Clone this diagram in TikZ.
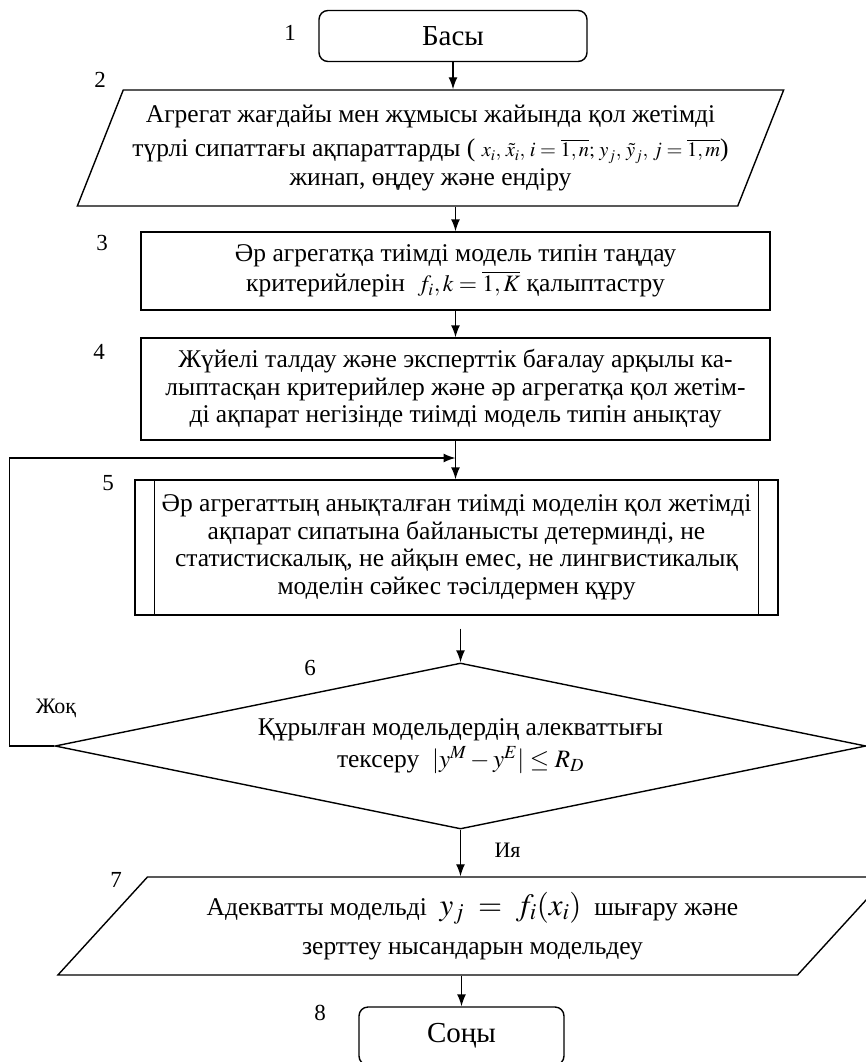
\documentclass[tikz,border=0pt]{standalone}
\usepackage{amsmath}
\usepackage{mathptmx}
\usepackage{fontspec}
\setmainfont{Liberation Serif}
\usetikzlibrary{positioning,arrows.meta,shapes.geometric}
\begin{document}
\begin{tikzpicture}[x=1pt,y=-1pt,font=\fontsize{25.5}{27.5}\selectfont,b/.style={draw,line width=1.4pt,align=center,inner sep=0pt},io/.style={b,trapezium,trapezium stretches=true},term/.style={b,rounded corners=9pt,font=\fontsize{29}{30}\selectfont},n/.style={inner sep=0pt,font=\fontsize{23}{25}\selectfont},a/.style={-{Latex[length=12pt,width=9pt]},line width=1.4pt}]
\path[use as bounding box,clip] (0,0) rectangle (866,1062);
\node[term,minimum width=268,minimum height=51](start) at (453,36){Басы};
\node[io,trapezium left angle=62.6,trapezium right angle=117.4,minimum width=711,minimum height=116](input) at (430.5,148){Агрегат жағдайы мен жұмысы жайында қол жетімді\\[7pt]түрлі сипаттағы ақпараттарды ( {\fontsize{20.5}{22}\selectfont$x_i,\,\tilde{x}_i,\,i=\overline{1,n};\,y_j,\,\tilde{y}_j,\,j=\overline{1,m}$})\\[1pt]жинап, өңдеу және ендіру};
\node[b,minimum width=629,minimum height=78](crit) at (455.5,271){Әр агрегатқа тиімді модель типін таңдау\\[3pt]критерийлерін \ {\fontsize{23.5}{24}\selectfont$f_i,k=\overline{1,K}$} қалыптастру};
\node[b,minimum width=629,minimum height=102](type) at (455.5,389){Жүйелі талдау және эксперттік бағалау арқылы ка-\\лыптасқан критерийлер және әр агрегатқа қол жетім-\\ді ақпарат негізінде тиімді модель типін анықтау};
\node[b,minimum width=643,minimum height=135](build) at (456.5,547.5){Әр агрегаттың анықталған тиімді моделін қол жетімді\\ақпарат сипатына байланысты детерминді, не\\статистискалық, не айқын емес, не лингвистикалық\\моделін сәйкес тәсілдермен құру};
\draw[line width=1.4pt]([xshift=20pt]build.north west)--([xshift=20pt]build.south west)([xshift=-20pt]build.north east)--([xshift=-20pt]build.south east);
\node[b,diamond,shape aspect=4.9,minimum width=811,minimum height=166](check) at (460.5,746){Құрылған модельдердің алекваттығы\\[5pt]тексеру \ {\fontsize{25}{26}\selectfont$|y^M-y^E|\le R_D$}};
\node[io,trapezium left angle=43,trapezium right angle=137,minimum width=835,minimum height=98](output) at (472.5,926){Адекватты модельді \ {\fontsize{31}{32}\selectfont$y_j\;=\;f_i(x_i)$} \ шығару және\\[12pt]зерттеу нысандарын модельдеу};
\node[term,minimum width=205,minimum height=58](stop) at (461.5,1036){Соңы};
\node[n] at (290,33){1};\node[n] at (100,80){2};\node[n] at (102,243){3};\node[n] at (99,352){4};\node[n] at (108,483){5};\node[n] at (310,668){6};\node[n] at (116,880){7};\node[n] at (320,1013){8};
\node[n,font=\fontsize{22}{24}\selectfont](no) at (56,708){Жоқ};
\coordinate (fb) at (455.5,458);
\draw[a](start.south)--(start.south|-input.north);\draw[a](crit.north|-input.south)--(crit);\draw[a](crit)--(type);\draw[a](type.south)--(type.south|-build.north);\draw[a](check.west)--++(-45,0)|-(fb);\draw[a]([yshift=-13pt]build.south-|check)--(check.north);\draw[a](check.south)--node[pos=0.45,right=30pt,font=\fontsize{22}{24}\selectfont]{Ия}(check.south|-output.north);\draw[a](output.south-|stop)--(stop);
\end{tikzpicture}
\end{document}
